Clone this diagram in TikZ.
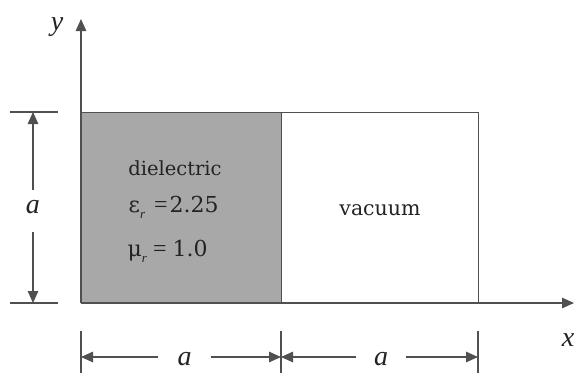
\documentclass[tikz,border=0pt]{standalone}
\usepackage{fontspec}
\setmainfont{DejaVu Serif}
\newfontfamily\libser{Liberation Serif}
\usetikzlibrary{arrows.meta}
\definecolor{ink}{RGB}{80,80,80}
\definecolor{txt}{RGB}{35,35,35}
\definecolor{diel}{RGB}{168,168,168}
\newcommand\subr{\raisebox{-0.3em}{\fontsize{13}{13}\selectfont\libser\itshape r}}
\newcommand\eqsign{{\libser\fontsize{24}{24}\selectfont =}}
\begin{document}
\begin{tikzpicture}[x=1pt,y=-1pt, line width=1.3pt, draw=ink,
  tip/.style={-{Triangle[length=12pt,width=10.5pt]}, draw=ink, fill=ink},
  lbl/.style={font=\fontsize{28}{28}\selectfont\libser\itshape, text=txt, inner sep=0pt},
  body/.style={font=\fontsize{19.5}{20}\selectfont, text=txt, inner sep=0pt, anchor=base},
  eqn/.style={font=\fontsize{22}{22}\selectfont, text=txt, inner sep=0pt, anchor=base west},
  region/.style={draw=ink, inner sep=0pt, anchor=north west}
]
\useasboundingbox (0,0) rectangle (574,373);
% regions
\node[region, fill=diel, minimum width=200pt, minimum height=191pt] (diel) at (81,112) {};
\node[region, minimum width=197pt, minimum height=191pt] (vac) at (281,112) {};
% texts
\node[body] (t1) at (175,175) {dielectric};
\node[eqn] (t2) at (128,212) {ε\subr\kern9pt\eqsign\kern2pt2.25};
\node[eqn] (t3) at (127,256) {μ\subr\kern6pt\eqsign\kern6pt1.0};
\node[body, font=\fontsize{20.5}{21}\selectfont] (t4) at (380,215) {vacuum};
% axes
\coordinate (O) at (81,303);
\coordinate (ytip) at (81,19);
\coordinate (xtip) at (574,303);
\draw[tip] (O) -- (ytip);
\draw[tip] (O) -- (xtip);
\node[lbl] (ylab) at (57,27) {y};
\node[lbl] (xlab) at (568,340) {x};
% left dimension
\draw (10,112) -- (58,112);
\draw (10,303) -- (58,303);
\coordinate (lt) at (33,112);
\coordinate (lb) at (33,303);
\coordinate (lg1) at (33,190);
\coordinate (lg2) at (33,232);
\node[lbl] (la) at (33,207) {a};
\draw[tip] (lg1) -- (lt);
\draw[tip] (lg2) -- (lb);
% bottom dimension
\draw (81,331) -- (81,373);
\draw (281,331) -- (281,373);
\draw (478,331) -- (478,373);
\coordinate (b0) at (81,357);
\coordinate (b1) at (281,357);
\coordinate (b2) at (478,357);
\node[lbl, minimum width=51pt] (ba1) at (184.5,359) {a};
\node[lbl, minimum width=48pt] (ba2) at (381,359) {a};
\draw[tip] (ba1.west |- b0) -- (b0);
\draw[tip] (ba1.east |- b0) -- (b1);
\draw[tip] (ba2.west |- b0) -- (b1);
\draw[tip] (ba2.east |- b0) -- (b2);
\end{tikzpicture}
\end{document}
